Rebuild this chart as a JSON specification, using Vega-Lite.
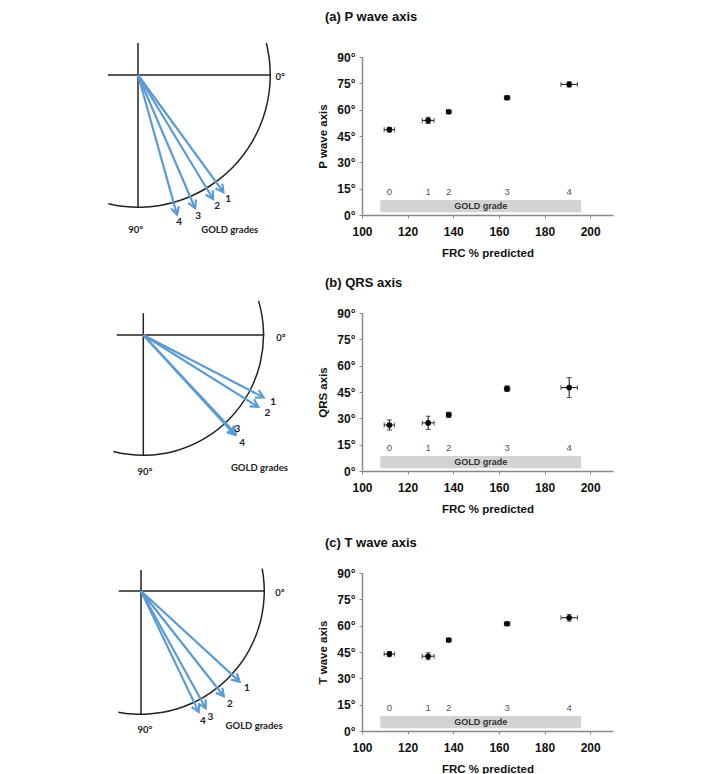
{
  "$schema": "https://vega.github.io/schema/vega-lite/v6.json",
  "padding": {"top": 11, "left": 5, "right": 5, "bottom": 0},
  "background": "white",
  "datasets": {
    "axes": [
      {"wave": "P", "grade": 0, "frc": 112, "frc_err": 2.3, "angle": 48.6, "angle_err": 1.3},
      {"wave": "P", "grade": 1, "frc": 129, "frc_err": 2.6, "angle": 53.9, "angle_err": 1.8},
      {"wave": "P", "grade": 2, "frc": 138, "frc_err": 1.0, "angle": 58.8, "angle_err": 0.8},
      {"wave": "P", "grade": 3, "frc": 163.6, "frc_err": 1.2, "angle": 66.8, "angle_err": 1.0},
      {"wave": "P", "grade": 4, "frc": 190.8, "frc_err": 3.6, "angle": 74.4, "angle_err": 1.5},
      {"wave": "QRS", "grade": 0, "frc": 112, "frc_err": 2.3, "angle": 26.2, "angle_err": 2.9},
      {"wave": "QRS", "grade": 1, "frc": 129, "frc_err": 2.6, "angle": 27.4, "angle_err": 3.8},
      {"wave": "QRS", "grade": 2, "frc": 138, "frc_err": 1.0, "angle": 32.0, "angle_err": 1.5},
      {"wave": "QRS", "grade": 3, "frc": 163.6, "frc_err": 1.2, "angle": 46.9, "angle_err": 1.6},
      {"wave": "QRS", "grade": 4, "frc": 190.8, "frc_err": 3.6, "angle": 47.5, "angle_err": 5.7},
      {"wave": "T", "grade": 0, "frc": 112, "frc_err": 2.3, "angle": 43.8, "angle_err": 1.5},
      {"wave": "T", "grade": 1, "frc": 129, "frc_err": 2.6, "angle": 42.6, "angle_err": 2.0},
      {"wave": "T", "grade": 2, "frc": 138, "frc_err": 1.0, "angle": 51.8, "angle_err": 0.9},
      {"wave": "T", "grade": 3, "frc": 163.6, "frc_err": 1.2, "angle": 61.1, "angle_err": 0.8},
      {"wave": "T", "grade": 4, "frc": 190.8, "frc_err": 3.6, "angle": 64.5, "angle_err": 1.9}
    ],
    "band": [{"start": 108, "end": 196, "low": 1.5, "high": 8.5, "mid": 152, "centre": 5, "label": "GOLD grade"}]
  },
  "bounds": "flush",
  "spacing": 256,
  "vconcat": [
    {
      "bounds": "flush",
      "spacing": 68,
      "hconcat": [
        {
          "width": 289, "height": 158,
          "data": {"name": "axes"},
          "layer": [
            {
              "data": {"values": [{}]},
              "mark": {"type": "rule", "color": "#222", "strokeWidth": 1.5},
              "encoding": {
                "x": {"datum": -0.226, "type": "quantitative", "scale": {"domain": [-1.0, 1.1729], "nice": false, "zero": false}, "axis": null},
                "x2": {"datum": 1.0},
                "y": {"datum": 0, "type": "quantitative", "scale": {"domain": [-0.1353, 1.0526], "nice": false, "zero": false, "reverse": true}, "axis": null}
              }
            },
            {
              "data": {"values": [{}]},
              "mark": {"type": "rule", "color": "#222", "strokeWidth": 1.5},
              "encoding": {"x": {"datum": 0, "type": "quantitative", "axis": null}, "y": {"datum": -0.24, "type": "quantitative", "axis": null}, "y2": {"datum": 1.0}}
            },
            {
              "data": {"values": [{}]},
              "mark": {"type": "arc", "theta": 1.3265, "theta2": 3.3685, "radius": 133, "radius2": 131.5, "color": "#222"},
              "encoding": {"x": {"datum": 0, "type": "quantitative", "axis": null}, "y": {"datum": 0, "type": "quantitative", "axis": null}}
            },
            {
              "transform": [
                {"filter": "datum.wave == 'P' && datum.grade > 0"},
                {"calculate": "1.09 * cos(datum.angle * PI / 180)", "as": "tip_x"},
                {"calculate": "1.09 * sin(datum.angle * PI / 180)", "as": "tip_y"},
                {"calculate": "1.15 * cos(datum.angle * PI / 180)", "as": "lab_x"},
                {"calculate": "1.15 * sin(datum.angle * PI / 180)", "as": "lab_y"}
              ],
              "layer": [
                {
                  "mark": {"type": "rule", "color": "#5b9bd5", "strokeWidth": 2.2},
                  "encoding": {"x": {"field": "tip_x", "type": "quantitative", "axis": null}, "y": {"field": "tip_y", "type": "quantitative", "axis": null}, "x2": {"datum": 0}, "y2": {"datum": 0}}
                },
                {
                  "mark": {"type": "point", "shape": "M -1 -0.55 L 0 0 L -1 0.55", "filled": false, "stroke": "#5b9bd5", "strokeWidth": 2.2, "size": 230, "opacity": 1},
                  "encoding": {"x": {"field": "tip_x", "type": "quantitative", "axis": null}, "y": {"field": "tip_y", "type": "quantitative", "axis": null}, "angle": {"field": "angle", "type": "quantitative", "scale": null}}
                },
                {
                  "mark": {"type": "text", "font": "Lato", "fontWeight": "bold", "fontSize": 10, "color": "#222"},
                  "encoding": {"x": {"field": "lab_x", "type": "quantitative", "axis": null}, "y": {"field": "lab_y", "type": "quantitative", "axis": null}, "text": {"field": "grade", "type": "nominal"}}
                }
              ]
            },
            {
              "data": {"values": [{}]},
              "mark": {"type": "text", "font": "Lato", "fontWeight": "bold", "fontSize": 9.5, "color": "#222"},
              "encoding": {"x": {"datum": 1.07, "type": "quantitative", "axis": null}, "y": {"datum": 0.015, "type": "quantitative", "axis": null}, "text": {"value": "0°"}}
            },
            {
              "data": {"values": [{}]},
              "mark": {"type": "text", "font": "Lato", "fontWeight": "bold", "fontSize": 9.5, "color": "#222"},
              "encoding": {"x": {"datum": -0.017, "type": "quantitative", "axis": null}, "y": {"datum": 1.165, "type": "quantitative", "axis": null}, "text": {"value": "90°"}}
            },
            {
              "data": {"values": [{}]},
              "mark": {"type": "text", "font": "Lato", "fontWeight": "bold", "fontSize": 9.5, "color": "#222"},
              "encoding": {"x": {"datum": 0.69, "type": "quantitative", "axis": null}, "y": {"datum": 1.165, "type": "quantitative", "axis": null}, "text": {"value": "GOLD grades"}}
            }
          ]
        },
        {
          "width": 251, "height": 158,
          "title": {"text": "(a)  P wave axis", "anchor": "start", "frame": "group", "dx": -37, "offset": 27, "font": "Liberation Sans", "fontSize": 13, "fontWeight": "bold", "color": "#111"},
          "layer": [
            {
              "data": {"name": "band"},
              "mark": {"type": "rect", "color": "#d3d3d3"},
              "encoding": {
                "x": {"field": "start", "type": "quantitative", "scale": {"domain": [100, 210], "nice": false, "zero": false}, "axis": {"values": [100, 120, 140, 160, 180, 200], "title": "FRC % predicted"}},
                "x2": {"field": "end"},
                "y": {"field": "low", "type": "quantitative", "scale": {"domain": [0, 90], "nice": false, "zero": false}, "axis": {"values": [0, 15, 30, 45, 60, 75, 90], "labelExpr": "datum.value + '°'", "title": "P wave axis"}},
                "y2": {"field": "high"}
              }
            },
            {
              "data": {"name": "band"},
              "mark": {"type": "text", "font": "Liberation Sans", "fontWeight": "bold", "fontSize": 9, "color": "#333"},
              "encoding": {
                "x": {"field": "mid", "type": "quantitative", "axis": {"values": [100, 120, 140, 160, 180, 200], "title": "FRC % predicted"}},
                "y": {"field": "centre", "type": "quantitative", "axis": {"values": [0, 15, 30, 45, 60, 75, 90], "labelExpr": "datum.value + '°'", "title": "P wave axis"}},
                "text": {"field": "label", "type": "nominal"}
              }
            },
            {
              "data": {"name": "axes"},
              "transform": [{"filter": "datum.wave == 'P'"}],
              "layer": [
                {
                  "mark": {"type": "text", "font": "Liberation Sans", "fontSize": 9.5, "color": "#555"},
                  "encoding": {
                    "x": {"field": "frc", "type": "quantitative", "axis": {"values": [100, 120, 140, 160, 180, 200], "title": "FRC % predicted"}},
                    "y": {"datum": 13.3, "type": "quantitative", "axis": {"values": [0, 15, 30, 45, 60, 75, 90], "labelExpr": "datum.value + '°'", "title": "P wave axis"}},
                    "text": {"field": "grade", "type": "nominal"}
                  }
                },
                {
                  "mark": {"type": "errorbar", "ticks": {"size": 5}, "color": "#111", "thickness": 1},
                  "encoding": {
                    "x": {"field": "frc", "type": "quantitative", "axis": {"values": [100, 120, 140, 160, 180, 200], "title": "FRC % predicted"}},
                    "y": {"field": "angle", "type": "quantitative", "axis": {"values": [0, 15, 30, 45, 60, 75, 90], "labelExpr": "datum.value + '°'", "title": "P wave axis"}},
                    "yError": {"field": "angle_err"}
                  }
                },
                {
                  "mark": {"type": "errorbar", "ticks": {"size": 5}, "color": "#111", "thickness": 1},
                  "encoding": {
                    "x": {"field": "frc", "type": "quantitative", "axis": {"values": [100, 120, 140, 160, 180, 200], "title": "FRC % predicted"}},
                    "y": {"field": "angle", "type": "quantitative", "axis": {"values": [0, 15, 30, 45, 60, 75, 90], "labelExpr": "datum.value + '°'", "title": "P wave axis"}},
                    "xError": {"field": "frc_err"}
                  }
                },
                {
                  "mark": {"type": "circle", "color": "#000", "size": 32, "opacity": 1},
                  "encoding": {
                    "x": {"field": "frc", "type": "quantitative", "axis": {"values": [100, 120, 140, 160, 180, 200], "title": "FRC % predicted"}},
                    "y": {"field": "angle", "type": "quantitative", "axis": {"values": [0, 15, 30, 45, 60, 75, 90], "labelExpr": "datum.value + '°'", "title": "P wave axis"}}
                  }
                }
              ]
            }
          ]
        }
      ]
    },
    {
      "bounds": "flush",
      "spacing": 260,
      "vconcat": [
        {
          "bounds": "flush",
          "spacing": 68,
          "hconcat": [
            {
              "width": 289, "height": 158,
              "data": {"name": "axes"},
              "layer": [
                {
                  "data": {"values": [{}]},
                  "mark": {"type": "rule", "color": "#222", "strokeWidth": 1.5},
                  "encoding": {
                    "x": {"datum": -0.22, "type": "quantitative", "scale": {"domain": [-1.143, 1.2455], "nice": false, "zero": false}, "axis": null},
                    "x2": {"datum": 1.0},
                    "y": {"datum": 0, "type": "quantitative", "scale": {"domain": [-0.1818, 1.124], "nice": false, "zero": false, "reverse": true}, "axis": null}
                  }
                },
                {
                  "data": {"values": [{}]},
                  "mark": {"type": "rule", "color": "#222", "strokeWidth": 1.5},
                  "encoding": {"x": {"datum": 0, "type": "quantitative", "axis": null}, "y": {"datum": -0.18, "type": "quantitative", "axis": null}, "y2": {"datum": 1.0}}
                },
                {
                  "data": {"values": [{}]},
                  "mark": {"type": "arc", "theta": 1.2828, "theta2": 3.3929, "radius": 121, "radius2": 119.5, "color": "#222"},
                  "encoding": {"x": {"datum": 0, "type": "quantitative", "axis": null}, "y": {"datum": 0, "type": "quantitative", "axis": null}}
                },
                {
                  "transform": [
                    {"filter": "datum.wave == 'QRS' && datum.grade > 0"},
                    {"calculate": "1.12 * cos(datum.angle * PI / 180)", "as": "tip_x"},
                    {"calculate": "1.12 * sin(datum.angle * PI / 180)", "as": "tip_y"},
                    {"calculate": "1.21 * cos(datum.angle * PI / 180)", "as": "lab_x"},
                    {"calculate": "1.21 * sin(datum.angle * PI / 180)", "as": "lab_y"}
                  ],
                  "layer": [
                    {
                      "mark": {"type": "rule", "color": "#5b9bd5", "strokeWidth": 2.2},
                      "encoding": {"x": {"field": "tip_x", "type": "quantitative", "axis": null}, "y": {"field": "tip_y", "type": "quantitative", "axis": null}, "x2": {"datum": 0}, "y2": {"datum": 0}}
                    },
                    {
                      "mark": {"type": "point", "shape": "M -1 -0.55 L 0 0 L -1 0.55", "filled": false, "stroke": "#5b9bd5", "strokeWidth": 2.2, "size": 230, "opacity": 1},
                      "encoding": {"x": {"field": "tip_x", "type": "quantitative", "axis": null}, "y": {"field": "tip_y", "type": "quantitative", "axis": null}, "angle": {"field": "angle", "type": "quantitative", "scale": null}}
                    },
                    {
                      "transform": [{"filter": "datum.grade != 3"}],
                      "mark": {"type": "text", "font": "Lato", "fontWeight": "bold", "fontSize": 10, "color": "#222"},
                      "encoding": {"x": {"field": "lab_x", "type": "quantitative", "axis": null}, "y": {"field": "lab_y", "type": "quantitative", "axis": null}, "text": {"field": "grade", "type": "nominal"}}
                    },
                    {
                      "transform": [{"filter": "datum.grade == 3"}],
                      "mark": {"type": "text", "font": "Lato", "fontWeight": "bold", "fontSize": 10, "color": "#222", "dx": -6, "dy": -13},
                      "encoding": {"x": {"field": "lab_x", "type": "quantitative", "axis": null}, "y": {"field": "lab_y", "type": "quantitative", "axis": null}, "text": {"field": "grade", "type": "nominal"}}
                    }
                  ]
                },
                {
                  "data": {"values": [{}]},
                  "mark": {"type": "text", "font": "Lato", "fontWeight": "bold", "fontSize": 9.5, "color": "#222"},
                  "encoding": {"x": {"datum": 1.138, "type": "quantitative", "axis": null}, "y": {"datum": 0.022, "type": "quantitative", "axis": null}, "text": {"value": "0°"}}
                },
                {
                  "data": {"values": [{}]},
                  "mark": {"type": "text", "font": "Lato", "fontWeight": "bold", "fontSize": 9.5, "color": "#222"},
                  "encoding": {"x": {"datum": 0.014, "type": "quantitative", "axis": null}, "y": {"datum": 1.129, "type": "quantitative", "axis": null}, "text": {"value": "90°"}}
                },
                {
                  "data": {"values": [{}]},
                  "mark": {"type": "text", "font": "Lato", "fontWeight": "bold", "fontSize": 9.5, "color": "#222"},
                  "encoding": {"x": {"datum": 0.96, "type": "quantitative", "axis": null}, "y": {"datum": 1.1, "type": "quantitative", "axis": null}, "text": {"value": "GOLD grades"}}
                }
              ]
            },
            {
              "width": 251, "height": 158,
              "title": {"text": "(b)  QRS axis", "anchor": "start", "frame": "group", "dx": -37, "offset": 17, "font": "Liberation Sans", "fontSize": 13, "fontWeight": "bold", "color": "#111"},
              "layer": [
                {
                  "data": {"name": "band"},
                  "mark": {"type": "rect", "color": "#d3d3d3"},
                  "encoding": {
                    "x": {"field": "start", "type": "quantitative", "scale": {"domain": [100, 210], "nice": false, "zero": false}, "axis": {"values": [100, 120, 140, 160, 180, 200], "title": "FRC % predicted"}},
                    "x2": {"field": "end"},
                    "y": {"field": "low", "type": "quantitative", "scale": {"domain": [0, 90], "nice": false, "zero": false}, "axis": {"values": [0, 15, 30, 45, 60, 75, 90], "labelExpr": "datum.value + '°'", "title": "QRS axis"}},
                    "y2": {"field": "high"}
                  }
                },
                {
                  "data": {"name": "band"},
                  "mark": {"type": "text", "font": "Liberation Sans", "fontWeight": "bold", "fontSize": 9, "color": "#333"},
                  "encoding": {
                    "x": {"field": "mid", "type": "quantitative", "axis": {"values": [100, 120, 140, 160, 180, 200], "title": "FRC % predicted"}},
                    "y": {"field": "centre", "type": "quantitative", "axis": {"values": [0, 15, 30, 45, 60, 75, 90], "labelExpr": "datum.value + '°'", "title": "QRS axis"}},
                    "text": {"field": "label", "type": "nominal"}
                  }
                },
                {
                  "data": {"name": "axes"},
                  "transform": [{"filter": "datum.wave == 'QRS'"}],
                  "layer": [
                    {
                      "mark": {"type": "text", "font": "Liberation Sans", "fontSize": 9.5, "color": "#555"},
                      "encoding": {
                        "x": {"field": "frc", "type": "quantitative", "axis": {"values": [100, 120, 140, 160, 180, 200], "title": "FRC % predicted"}},
                        "y": {"datum": 13.3, "type": "quantitative", "axis": {"values": [0, 15, 30, 45, 60, 75, 90], "labelExpr": "datum.value + '°'", "title": "QRS axis"}},
                        "text": {"field": "grade", "type": "nominal"}
                      }
                    },
                    {
                      "mark": {"type": "errorbar", "ticks": {"size": 5}, "color": "#111", "thickness": 1},
                      "encoding": {
                        "x": {"field": "frc", "type": "quantitative", "axis": {"values": [100, 120, 140, 160, 180, 200], "title": "FRC % predicted"}},
                        "y": {"field": "angle", "type": "quantitative", "axis": {"values": [0, 15, 30, 45, 60, 75, 90], "labelExpr": "datum.value + '°'", "title": "QRS axis"}},
                        "yError": {"field": "angle_err"}
                      }
                    },
                    {
                      "mark": {"type": "errorbar", "ticks": {"size": 5}, "color": "#111", "thickness": 1},
                      "encoding": {
                        "x": {"field": "frc", "type": "quantitative", "axis": {"values": [100, 120, 140, 160, 180, 200], "title": "FRC % predicted"}},
                        "y": {"field": "angle", "type": "quantitative", "axis": {"values": [0, 15, 30, 45, 60, 75, 90], "labelExpr": "datum.value + '°'", "title": "QRS axis"}},
                        "xError": {"field": "frc_err"}
                      }
                    },
                    {
                      "mark": {"type": "circle", "color": "#000", "size": 32, "opacity": 1},
                      "encoding": {
                        "x": {"field": "frc", "type": "quantitative", "axis": {"values": [100, 120, 140, 160, 180, 200], "title": "FRC % predicted"}},
                        "y": {"field": "angle", "type": "quantitative", "axis": {"values": [0, 15, 30, 45, 60, 75, 90], "labelExpr": "datum.value + '°'", "title": "QRS axis"}}
                      }
                    }
                  ]
                }
              ]
            }
          ]
        },
        {
          "bounds": "flush",
          "spacing": 68,
          "hconcat": [
            {
              "width": 289, "height": 158,
              "data": {"name": "axes"},
              "layer": [
                {
                  "data": {"values": [{}]},
                  "mark": {"type": "rule", "color": "#222", "strokeWidth": 1.5},
                  "encoding": {
                    "x": {"datum": -0.18, "type": "quantitative", "scale": {"domain": [-1.0968, 1.2339], "nice": false, "zero": false}, "axis": null},
                    "x2": {"datum": 1.0},
                    "y": {"datum": 0, "type": "quantitative", "scale": {"domain": [-0.1452, 1.129], "nice": false, "zero": false, "reverse": true}, "axis": null}
                  }
                },
                {
                  "data": {"values": [{}]},
                  "mark": {"type": "rule", "color": "#222", "strokeWidth": 1.5},
                  "encoding": {"x": {"datum": 0, "type": "quantitative", "axis": null}, "y": {"datum": -0.17, "type": "quantitative", "axis": null}, "y2": {"datum": 1.0}}
                },
                {
                  "data": {"values": [{}]},
                  "mark": {"type": "arc", "theta": 1.3875, "theta2": 3.3266, "radius": 124, "radius2": 122.5, "color": "#222"},
                  "encoding": {"x": {"datum": 0, "type": "quantitative", "axis": null}, "y": {"datum": 0, "type": "quantitative", "axis": null}}
                },
                {
                  "transform": [
                    {"filter": "datum.wave == 'T' && datum.grade > 0"},
                    {"calculate": "1.08 * cos(datum.angle * PI / 180)", "as": "tip_x"},
                    {"calculate": "1.08 * sin(datum.angle * PI / 180)", "as": "tip_y"},
                    {"calculate": "1.16 * cos(datum.angle * PI / 180)", "as": "lab_x"},
                    {"calculate": "1.16 * sin(datum.angle * PI / 180)", "as": "lab_y"}
                  ],
                  "layer": [
                    {
                      "mark": {"type": "rule", "color": "#5b9bd5", "strokeWidth": 2.2},
                      "encoding": {"x": {"field": "tip_x", "type": "quantitative", "axis": null}, "y": {"field": "tip_y", "type": "quantitative", "axis": null}, "x2": {"datum": 0}, "y2": {"datum": 0}}
                    },
                    {
                      "mark": {"type": "point", "shape": "M -1 -0.55 L 0 0 L -1 0.55", "filled": false, "stroke": "#5b9bd5", "strokeWidth": 2.2, "size": 230, "opacity": 1},
                      "encoding": {"x": {"field": "tip_x", "type": "quantitative", "axis": null}, "y": {"field": "tip_y", "type": "quantitative", "axis": null}, "angle": {"field": "angle", "type": "quantitative", "scale": null}}
                    },
                    {
                      "mark": {"type": "text", "font": "Lato", "fontWeight": "bold", "fontSize": 10, "color": "#222"},
                      "encoding": {"x": {"field": "lab_x", "type": "quantitative", "axis": null}, "y": {"field": "lab_y", "type": "quantitative", "axis": null}, "text": {"field": "grade", "type": "nominal"}}
                    }
                  ]
                },
                {
                  "data": {"values": [{}]},
                  "mark": {"type": "text", "font": "Lato", "fontWeight": "bold", "fontSize": 9.5, "color": "#222"},
                  "encoding": {"x": {"datum": 1.12, "type": "quantitative", "axis": null}, "y": {"datum": 0.013, "type": "quantitative", "axis": null}, "text": {"value": "0°"}}
                },
                {
                  "data": {"values": [{}]},
                  "mark": {"type": "text", "font": "Lato", "fontWeight": "bold", "fontSize": 9.5, "color": "#222"},
                  "encoding": {"x": {"datum": 0.032, "type": "quantitative", "axis": null}, "y": {"datum": 1.121, "type": "quantitative", "axis": null}, "text": {"value": "90°"}}
                },
                {
                  "data": {"values": [{}]},
                  "mark": {"type": "text", "font": "Lato", "fontWeight": "bold", "fontSize": 9.5, "color": "#222"},
                  "encoding": {"x": {"datum": 0.912, "type": "quantitative", "axis": null}, "y": {"datum": 1.085, "type": "quantitative", "axis": null}, "text": {"value": "GOLD grades"}}
                }
              ]
            },
            {
              "width": 251, "height": 158,
              "title": {"text": "(c)  T wave axis", "anchor": "start", "frame": "group", "dx": -37, "offset": 17, "font": "Liberation Sans", "fontSize": 13, "fontWeight": "bold", "color": "#111"},
              "layer": [
                {
                  "data": {"name": "band"},
                  "mark": {"type": "rect", "color": "#d3d3d3"},
                  "encoding": {
                    "x": {"field": "start", "type": "quantitative", "scale": {"domain": [100, 210], "nice": false, "zero": false}, "axis": {"values": [100, 120, 140, 160, 180, 200], "title": "FRC % predicted"}},
                    "x2": {"field": "end"},
                    "y": {"field": "low", "type": "quantitative", "scale": {"domain": [0, 90], "nice": false, "zero": false}, "axis": {"values": [0, 15, 30, 45, 60, 75, 90], "labelExpr": "datum.value + '°'", "title": "T wave axis"}},
                    "y2": {"field": "high"}
                  }
                },
                {
                  "data": {"name": "band"},
                  "mark": {"type": "text", "font": "Liberation Sans", "fontWeight": "bold", "fontSize": 9, "color": "#333"},
                  "encoding": {
                    "x": {"field": "mid", "type": "quantitative", "axis": {"values": [100, 120, 140, 160, 180, 200], "title": "FRC % predicted"}},
                    "y": {"field": "centre", "type": "quantitative", "axis": {"values": [0, 15, 30, 45, 60, 75, 90], "labelExpr": "datum.value + '°'", "title": "T wave axis"}},
                    "text": {"field": "label", "type": "nominal"}
                  }
                },
                {
                  "data": {"name": "axes"},
                  "transform": [{"filter": "datum.wave == 'T'"}],
                  "layer": [
                    {
                      "mark": {"type": "text", "font": "Liberation Sans", "fontSize": 9.5, "color": "#555"},
                      "encoding": {
                        "x": {"field": "frc", "type": "quantitative", "axis": {"values": [100, 120, 140, 160, 180, 200], "title": "FRC % predicted"}},
                        "y": {"datum": 13.3, "type": "quantitative", "axis": {"values": [0, 15, 30, 45, 60, 75, 90], "labelExpr": "datum.value + '°'", "title": "T wave axis"}},
                        "text": {"field": "grade", "type": "nominal"}
                      }
                    },
                    {
                      "mark": {"type": "errorbar", "ticks": {"size": 5}, "color": "#111", "thickness": 1},
                      "encoding": {
                        "x": {"field": "frc", "type": "quantitative", "axis": {"values": [100, 120, 140, 160, 180, 200], "title": "FRC % predicted"}},
                        "y": {"field": "angle", "type": "quantitative", "axis": {"values": [0, 15, 30, 45, 60, 75, 90], "labelExpr": "datum.value + '°'", "title": "T wave axis"}},
                        "yError": {"field": "angle_err"}
                      }
                    },
                    {
                      "mark": {"type": "errorbar", "ticks": {"size": 5}, "color": "#111", "thickness": 1},
                      "encoding": {
                        "x": {"field": "frc", "type": "quantitative", "axis": {"values": [100, 120, 140, 160, 180, 200], "title": "FRC % predicted"}},
                        "y": {"field": "angle", "type": "quantitative", "axis": {"values": [0, 15, 30, 45, 60, 75, 90], "labelExpr": "datum.value + '°'", "title": "T wave axis"}},
                        "xError": {"field": "frc_err"}
                      }
                    },
                    {
                      "mark": {"type": "circle", "color": "#000", "size": 32, "opacity": 1},
                      "encoding": {
                        "x": {"field": "frc", "type": "quantitative", "axis": {"values": [100, 120, 140, 160, 180, 200], "title": "FRC % predicted"}},
                        "y": {"field": "angle", "type": "quantitative", "axis": {"values": [0, 15, 30, 45, 60, 75, 90], "labelExpr": "datum.value + '°'", "title": "T wave axis"}}
                      }
                    }
                  ]
                }
              ]
            }
          ]
        }
      ]
    }
  ],
  "config": {
    "view": {"stroke": null},
    "axis": {
      "grid": false,
      "domainColor": "#888", "domainWidth": 1.5,
      "tickColor": "#888", "tickSize": 3, "tickWidth": 1,
      "labelFont": "Liberation Sans", "labelFontWeight": "bold", "labelFontSize": 12, "labelColor": "#111",
      "labelFlush": false, "labelOverlap": false,
      "titleFont": "Liberation Sans", "titleFontWeight": "bold", "titleFontSize": 11.5, "titleColor": "#111"
    },
    "axisX": {"labelPadding": 8, "titlePadding": 10},
    "axisY": {"labelPadding": 4, "titlePadding": 8}
  }
}
